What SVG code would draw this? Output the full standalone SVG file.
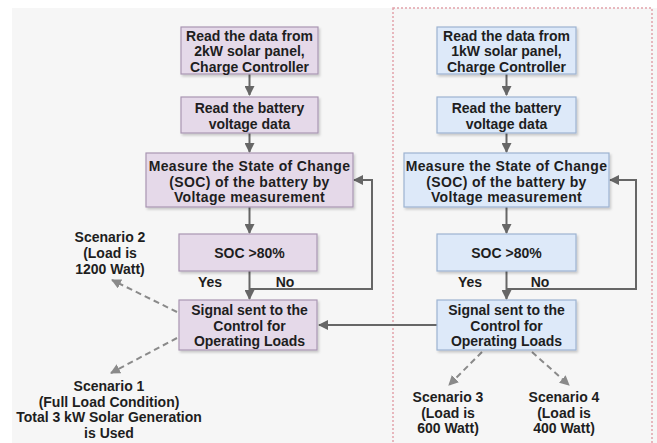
<svg xmlns="http://www.w3.org/2000/svg" width="657" height="443" viewBox="0 0 657 443">
<style>
text{font-family:"Liberation Sans",Arial,sans-serif;font-weight:bold;font-size:14px;fill:#1e1e1e;text-anchor:middle}
.w{letter-spacing:0.35px}
.p{fill:#e5d9e9;stroke:#a996b2;stroke-width:1.2}
.b{fill:#dde9f9;stroke:#9db3d1;stroke-width:1.2}
.c{fill:none;stroke:#666;stroke-width:2}
.d{fill:none;stroke:#8a8a8a;stroke-width:2;stroke-dasharray:6 4}
</style>
<defs>
<marker id="a" viewBox="0 0 10 10" refX="9" refY="5" markerWidth="5" markerHeight="5" orient="auto" markerUnits="strokeWidth"><path d="M0,0 L10,5 L0,10 z" fill="#666"/></marker>
<marker id="ad" viewBox="0 0 10 10" refX="9" refY="5" markerWidth="5" markerHeight="5" orient="auto" markerUnits="strokeWidth"><path d="M0,0 L10,5 L0,10 z" fill="#8a8a8a"/></marker>
<filter id="s" x="-10%" y="-10%" width="130%" height="140%"><feDropShadow dx="1.5" dy="2" stdDeviation="1.2" flood-color="#000" flood-opacity="0.18"/></filter>
</defs>
<rect x="0" y="0" width="657" height="443" fill="#fff"/>
<rect x="12" y="8" width="645" height="435" fill="#f6f6f6"/>
<rect x="393" y="8" width="259" height="440" fill="none" stroke="#e2a2aa" stroke-width="1.5" stroke-dasharray="2 2"/>

<g id="connectors">
<path class="c" d="M249.5,74 V95" marker-end="url(#a)"/>
<path class="c" d="M249.5,133 V152" marker-end="url(#a)"/>
<path class="c" d="M249.5,207 V233" marker-end="url(#a)"/>
<path class="c" d="M249.5,271 V299" marker-end="url(#a)"/>
<path class="c" d="M249.5,289 H372 V180 H354" marker-end="url(#a)"/>
<path class="c" d="M506.5,74 V95" marker-end="url(#a)"/>
<path class="c" d="M506.5,133 V152" marker-end="url(#a)"/>
<path class="c" d="M506.5,207 V233" marker-end="url(#a)"/>
<path class="c" d="M506.5,271 V299" marker-end="url(#a)"/>
<path class="c" d="M506.5,289 H636 V180 H610" marker-end="url(#a)"/>
<path class="c" d="M437,325 H319" marker-end="url(#a)"/>
<path class="d" d="M177,312 L112,280" marker-end="url(#ad)"/>
<path class="d" d="M177,338 L111,373" marker-end="url(#ad)"/>
<path class="d" d="M482,352 L449,385" marker-end="url(#ad)"/>
<path class="d" d="M532,352 L569,385" marker-end="url(#ad)"/>
</g>

<g id="n1"><rect class="p" x="181" y="27" width="137" height="47" filter="url(#s)"/>
<text x="249.5" y="40.5">Read the data from</text><text x="249.5" y="56">2kW solar panel,</text><text x="249.5" y="71.5">Charge Controller</text></g>
<g id="n2"><rect class="p" x="181" y="97" width="137" height="36" filter="url(#s)"/>
<text x="249.5" y="113">Read the battery</text><text x="249.5" y="128.5">voltage data</text></g>
<g id="n3"><rect class="p" x="146" y="153" width="207" height="54" filter="url(#s)"/>
<text class="w" x="249.5" y="171">Measure the State of Change</text><text class="w" x="249.5" y="186.5">(SOC) of the battery by</text><text class="w" x="249.5" y="202">Voltage measurement</text></g>
<g id="n4"><rect class="p" x="179" y="234" width="138" height="37" filter="url(#s)"/>
<text x="249.5" y="258">SOC &gt;80%</text></g>
<g id="n5"><rect class="p" x="179" y="300" width="138" height="50" filter="url(#s)"/>
<text x="249.5" y="315">Signal sent to the</text><text x="249.5" y="331">Control for</text><text x="249.5" y="346">Operating Loads</text></g>

<g id="m1"><rect class="b" x="437" y="27" width="139" height="47" filter="url(#s)"/>
<text x="506.5" y="40.5">Read the data from</text><text x="506.5" y="56">1kW solar panel,</text><text x="506.5" y="71.5">Charge Controller</text></g>
<g id="m2"><rect class="b" x="437" y="97" width="139" height="36" filter="url(#s)"/>
<text x="506.5" y="113">Read the battery</text><text x="506.5" y="128.5">voltage data</text></g>
<g id="m3"><rect class="b" x="404" y="153" width="205" height="54" filter="url(#s)"/>
<text class="w" x="506.5" y="171">Measure the State of Change</text><text class="w" x="506.5" y="186.5">(SOC) of the battery by</text><text class="w" x="506.5" y="202">Voltage measurement</text></g>
<g id="m4"><rect class="b" x="437" y="234" width="139" height="37" filter="url(#s)"/>
<text x="506.5" y="258">SOC &gt;80%</text></g>
<g id="m5"><rect class="b" x="437" y="300" width="139" height="50" filter="url(#s)"/>
<text x="506.5" y="315">Signal sent to the</text><text x="506.5" y="331">Control for</text><text x="506.5" y="346">Operating Loads</text></g>

<g id="labels">
<text x="210" y="287">Yes</text><text x="285" y="287">No</text>
<text x="470" y="287">Yes</text><text x="540" y="287">No</text>
</g>

<g id="s2"><text x="110" y="242">Scenario 2</text><text x="110" y="258">(Load is</text><text x="110" y="274">1200 Watt)</text></g>
<g id="s1"><text x="109" y="391">Scenario 1</text><text x="109" y="407">(Full Load Condition)</text><text x="109" y="422">Total 3 kW Solar Generation</text><text x="109" y="438">is Used</text></g>
<g id="s3"><text x="448" y="402">Scenario 3</text><text x="448" y="418">(Load is</text><text x="448" y="433">600 Watt)</text></g>
<g id="s4"><text x="564" y="402">Scenario 4</text><text x="564" y="418">(Load is</text><text x="564" y="433">400 Watt)</text></g>
</svg>
